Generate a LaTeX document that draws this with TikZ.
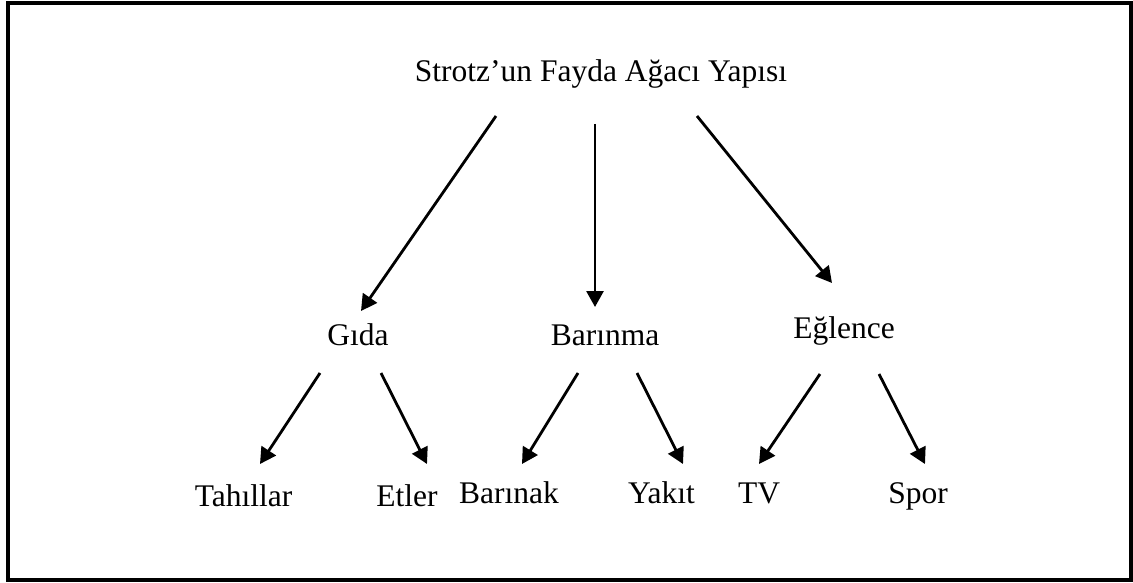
\documentclass[tikz,border=0pt]{standalone}
\usepackage{fontspec}
\setmainfont{Liberation Serif}
\usetikzlibrary{arrows.meta}
\begin{document}
\begin{tikzpicture}[x=1pt,y=-1pt,
  lbl/.style={anchor=base,inner sep=0pt,font=\fontsize{31.5}{37}\selectfont},
  arr/.style={line width=2.8pt,-{Triangle[length=16pt,width=17pt]}}]
\useasboundingbox (0,0) rectangle (1133,583);
\draw[line width=4pt] (8,3.5) rectangle (1131,580);
% labels
\node[lbl] (title) at (601,82) {Strotz’un Fayda Ağacı Yapısı};
\node[lbl] (gida) at (358,345) {Gıda};
\node[lbl] (barinma) at (605,345) {Barınma};
\node[lbl] (eglence) at (844,338) {Eğlence};
\node[lbl] (tahillar) at (243.5,506) {Tahıllar};
\node[lbl] (etler) at (407,506) {Etler};
\node[lbl] (barinak) at (509,503) {Barınak};
\node[lbl] (yakit) at (661.5,503) {Yakıt};
\node[lbl] (tv) at (759,503) {TV};
\node[lbl] (spor) at (918,503) {Spor};
% connector end points
\coordinate (t1) at (496,116);
\coordinate (t2) at (595,124);
\coordinate (t3) at (697,116);
\coordinate (g0) at (361,311);
\coordinate (b0) at (595,307);
\coordinate (e0) at (832,283);
\coordinate (g1) at (320,373);
\coordinate (g2) at (381,373);
\coordinate (b1) at (578,373);
\coordinate (b2) at (637,373);
\coordinate (e1) at (820,374);
\coordinate (e2) at (879,374);
\coordinate (ta) at (260,464);
\coordinate (et) at (427,464);
\coordinate (bk) at (522,464);
\coordinate (yk) at (683,464);
\coordinate (tvt) at (759,464);
\coordinate (sp) at (925,464);
\draw[arr] (t1) -- (g0);
\draw[arr] (t2) -- (b0);
\draw[arr] (t3) -- (e0);
\draw[arr] (g1) -- (ta);
\draw[arr] (g2) -- (et);
\draw[arr] (b1) -- (bk);
\draw[arr] (b2) -- (yk);
\draw[arr] (e1) -- (tvt);
\draw[arr] (e2) -- (sp);
\end{tikzpicture}
\end{document}
